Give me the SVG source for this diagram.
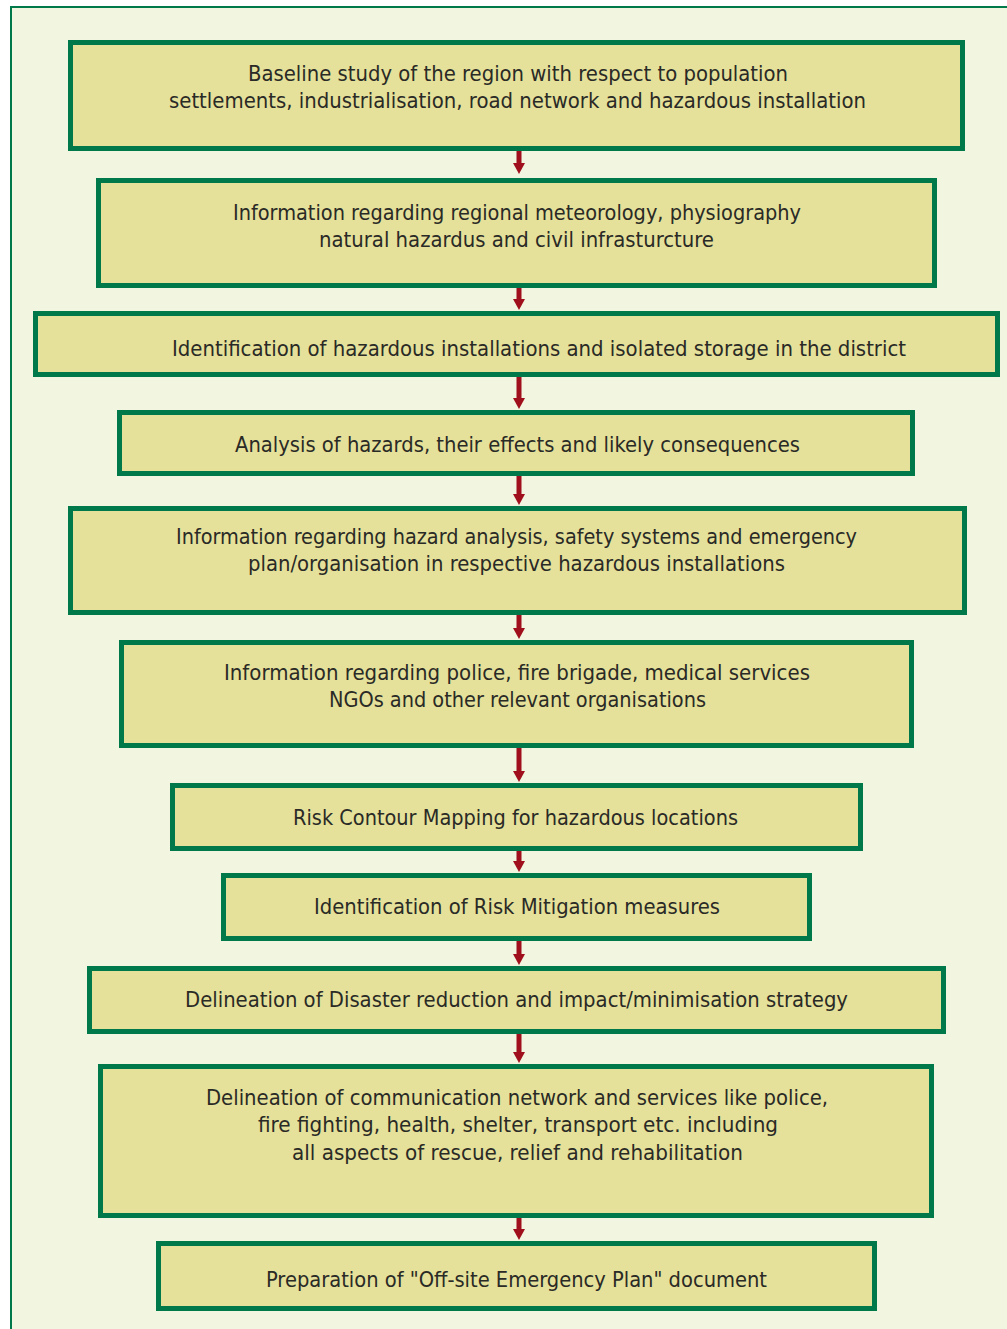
<svg xmlns="http://www.w3.org/2000/svg" width="1007" height="1329" viewBox="0 0 1007 1329">
<style>
.bg{fill:#f2f5df;stroke:#00794a;stroke-width:2}
.box{fill:#e5e19a;stroke:#00794a;stroke-width:5}
.t{font-family:"DejaVu Sans Condensed","DejaVu Sans",sans-serif;font-size:21px;fill:#2a2a26;text-anchor:middle}
.c{stroke:#a0101c;stroke-width:5;fill:none}
</style>
<defs>
<marker id="ah" markerUnits="userSpaceOnUse" markerWidth="11" markerHeight="12" refX="0" refY="6" orient="auto" viewBox="0 0 11 12">
<path d="M0,0 L11,6 L0,12 z" fill="#a0101c"/>
</marker>
</defs>
<rect width="1007" height="1329" fill="#ffffff"/>
<rect class="bg" x="11" y="7" width="1010" height="1340"/>
<g id="connectors">
<line class="c" x1="519" y1="151" x2="519" y2="163" marker-end="url(#ah)"/>
<line class="c" x1="519" y1="288" x2="519" y2="299" marker-end="url(#ah)"/>
<line class="c" x1="519" y1="377" x2="519" y2="398" marker-end="url(#ah)"/>
<line class="c" x1="519" y1="476" x2="519" y2="494" marker-end="url(#ah)"/>
<line class="c" x1="519" y1="615" x2="519" y2="628" marker-end="url(#ah)"/>
<line class="c" x1="519" y1="748" x2="519" y2="771" marker-end="url(#ah)"/>
<line class="c" x1="519" y1="851" x2="519" y2="861" marker-end="url(#ah)"/>
<line class="c" x1="519" y1="941" x2="519" y2="954" marker-end="url(#ah)"/>
<line class="c" x1="519" y1="1034" x2="519" y2="1052" marker-end="url(#ah)"/>
<line class="c" x1="519" y1="1218" x2="519" y2="1229" marker-end="url(#ah)"/>
</g>
<g id="n1">
<rect class="box" x="70.5" y="42.5" width="892" height="106"/>
<text class="t" x="518" y="81" textLength="540" lengthAdjust="spacingAndGlyphs">Baseline study of the region with respect to population</text>
<text class="t" x="517.5" y="108" textLength="697" lengthAdjust="spacingAndGlyphs">settlements, industrialisation, road network and hazardous installation</text>
</g>
<g id="n2">
<rect class="box" x="98.5" y="180.5" width="836" height="105"/>
<text class="t" x="517" y="220" textLength="568" lengthAdjust="spacingAndGlyphs">Information regarding regional meteorology, physiography</text>
<text class="t" x="516.5" y="247" textLength="395" lengthAdjust="spacingAndGlyphs">natural hazardus and civil infrasturcture</text>
</g>
<g id="n3">
<rect class="box" x="35.5" y="313.5" width="962" height="61"/>
<text class="t" x="539" y="356" textLength="734" lengthAdjust="spacingAndGlyphs">Identification of hazardous installations and isolated storage in the district</text>
</g>
<g id="n4">
<rect class="box" x="119.5" y="412.5" width="793" height="61"/>
<text class="t" x="517.5" y="452" textLength="565" lengthAdjust="spacingAndGlyphs">Analysis of hazards, their effects and likely consequences</text>
</g>
<g id="n5">
<rect class="box" x="70.5" y="508.5" width="894" height="104"/>
<text class="t" x="516.5" y="544" textLength="681" lengthAdjust="spacingAndGlyphs">Information regarding hazard analysis, safety systems and emergency</text>
<text class="t" x="516.5" y="571" textLength="537" lengthAdjust="spacingAndGlyphs">plan/organisation in respective hazardous installations</text>
</g>
<g id="n6">
<rect class="box" x="121.5" y="642.5" width="790" height="103"/>
<text class="t" x="517" y="680" textLength="586" lengthAdjust="spacingAndGlyphs">Information regarding police, fire brigade, medical services</text>
<text class="t" x="517.5" y="707" textLength="377" lengthAdjust="spacingAndGlyphs">NGOs and other relevant organisations</text>
</g>
<g id="n7">
<rect class="box" x="172.5" y="785.5" width="688" height="63"/>
<text class="t" x="515.5" y="825" textLength="445" lengthAdjust="spacingAndGlyphs">Risk Contour Mapping for hazardous locations</text>
</g>
<g id="n8">
<rect class="box" x="223.5" y="875.5" width="586" height="63"/>
<text class="t" x="517" y="914" textLength="406" lengthAdjust="spacingAndGlyphs">Identification of Risk Mitigation measures</text>
</g>
<g id="n9">
<rect class="box" x="89.5" y="968.5" width="854" height="63"/>
<text class="t" x="516.5" y="1007" textLength="663" lengthAdjust="spacingAndGlyphs">Delineation of Disaster reduction and impact/minimisation strategy</text>
</g>
<g id="n10">
<rect class="box" x="100.5" y="1066.5" width="831" height="149"/>
<text class="t" x="517" y="1105" textLength="622" lengthAdjust="spacingAndGlyphs">Delineation of communication network and services like police,</text>
<text class="t" x="518" y="1132" textLength="520" lengthAdjust="spacingAndGlyphs">fire fighting, health, shelter, transport etc. including</text>
<text class="t" x="517.5" y="1160" textLength="451" lengthAdjust="spacingAndGlyphs">all aspects of rescue, relief and rehabilitation</text>
</g>
<g id="n11">
<rect class="box" x="158.5" y="1243.5" width="716" height="65"/>
<text class="t" x="516.5" y="1287" textLength="501" lengthAdjust="spacingAndGlyphs">Preparation of "Off-site Emergency Plan" document</text>
</g>
</svg>
